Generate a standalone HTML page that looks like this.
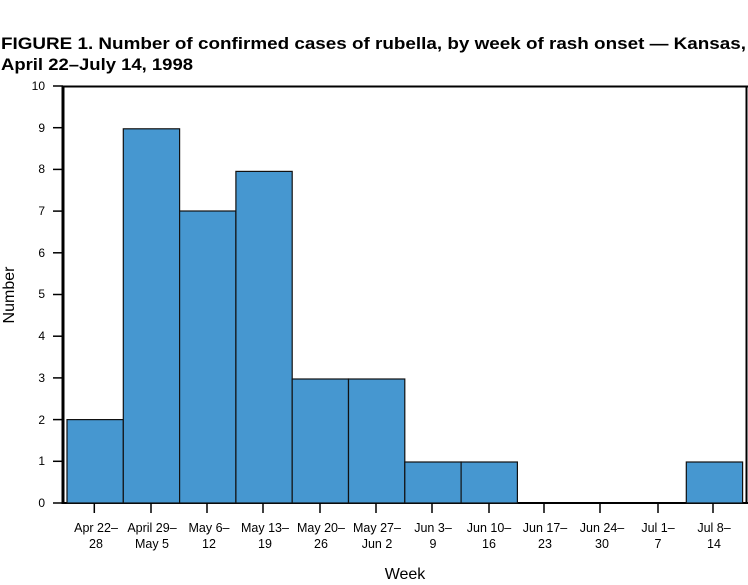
<!DOCTYPE html>
<html><head><style>
body{margin:0;background:#fff;width:748px;height:580px;overflow:hidden}
</style></head><body>
<svg width="748" height="580" xmlns="http://www.w3.org/2000/svg" font-family="Liberation Sans, sans-serif">
<text x="1" y="49" font-size="17" font-weight="bold" fill="#000" textLength="745" lengthAdjust="spacingAndGlyphs">FIGURE 1. Number of confirmed cases of rubella, by week of rash onset — Kansas,</text>
<text x="1" y="70" font-size="17" font-weight="bold" fill="#000" textLength="192" lengthAdjust="spacingAndGlyphs">April 22–July 14, 1998</text>
<line x1="63" y1="86.5" x2="748" y2="86.5" stroke="#000" stroke-width="2"/>
<line x1="746.5" y1="86" x2="746.5" y2="503" stroke="#000" stroke-width="2"/>
<line x1="63" y1="86" x2="63" y2="504" stroke="#000" stroke-width="3"/>
<line x1="63" y1="503" x2="748" y2="503" stroke="#000" stroke-width="2"/>
<g fill="#4697d0" stroke="#111" stroke-width="1.2">
<rect x="67" y="419.6" width="56.3" height="83.4"/>
<rect x="123.3" y="128.8" width="56.3" height="374.2"/>
<rect x="179.6" y="211" width="56.3" height="292"/>
<rect x="235.9" y="171.4" width="56.3" height="331.6"/>
<rect x="292.2" y="379" width="56.3" height="124"/>
<rect x="348.5" y="379" width="56.3" height="124"/>
<rect x="404.8" y="462" width="56.3" height="41"/>
<rect x="461.1" y="462" width="56.3" height="41"/>
<rect x="686.3" y="462" width="56.3" height="41"/>
</g>
<g stroke="#000" stroke-width="1.5">
<line x1="53" x2="63" y1="503" y2="503"/><line x1="53" x2="63" y1="461.3" y2="461.3"/><line x1="53" x2="63" y1="419.6" y2="419.6"/><line x1="53" x2="63" y1="377.9" y2="377.9"/><line x1="53" x2="63" y1="336.2" y2="336.2"/><line x1="53" x2="63" y1="294.5" y2="294.5"/><line x1="53" x2="63" y1="252.8" y2="252.8"/><line x1="53" x2="63" y1="211.1" y2="211.1"/><line x1="53" x2="63" y1="169.4" y2="169.4"/><line x1="53" x2="63" y1="127.7" y2="127.7"/><line x1="53" x2="63" y1="86" y2="86"/>
</g>
<g font-size="12" text-anchor="end" fill="#000">
<text x="45" y="507">0</text><text x="45" y="465">1</text><text x="45" y="424">2</text><text x="45" y="382">3</text><text x="45" y="340">4</text><text x="45" y="298">5</text><text x="45" y="257">6</text><text x="45" y="215">7</text><text x="45" y="173">8</text><text x="45" y="132">9</text><text x="45" y="90">10</text>
</g>
<g stroke="#000" stroke-width="1.5">
<line x1="94.3" x2="94.3" y1="503" y2="513"/><line x1="151" x2="151" y1="503" y2="513"/><line x1="207" x2="207" y1="503" y2="513"/><line x1="263" x2="263" y1="503" y2="513"/><line x1="320" x2="320" y1="503" y2="513"/><line x1="376" x2="376" y1="503" y2="513"/><line x1="432" x2="432" y1="503" y2="513"/><line x1="489" x2="489" y1="503" y2="513"/><line x1="544" x2="544" y1="503" y2="513"/><line x1="600" x2="600" y1="503" y2="513"/><line x1="658" x2="658" y1="503" y2="513"/><line x1="713" x2="713" y1="503" y2="513"/>
</g>
<g font-size="12.5" text-anchor="middle" fill="#000">
<text x="96" y="532">Apr 22–</text><text x="96" y="548">28</text>
<text x="152" y="532">April 29–</text><text x="152" y="548">May 5</text>
<text x="209" y="532">May 6–</text><text x="209" y="548">12</text>
<text x="265" y="532">May 13–</text><text x="265" y="548">19</text>
<text x="321" y="532">May 20–</text><text x="321" y="548">26</text>
<text x="377" y="532">May 27–</text><text x="377" y="548">Jun 2</text>
<text x="433" y="532">Jun 3–</text><text x="433" y="548">9</text>
<text x="489" y="532">Jun 10–</text><text x="489" y="548">16</text>
<text x="545" y="532">Jun 17–</text><text x="545" y="548">23</text>
<text x="602" y="532">Jun 24–</text><text x="602" y="548">30</text>
<text x="658" y="532">Jul 1–</text><text x="658" y="548">7</text>
<text x="714" y="532">Jul 8–</text><text x="714" y="548">14</text>
</g>
<text x="405" y="579" font-size="16" text-anchor="middle">Week</text>
<text transform="translate(14,295) rotate(-90)" font-size="16" text-anchor="middle">Number</text>
</svg>
</body></html>
